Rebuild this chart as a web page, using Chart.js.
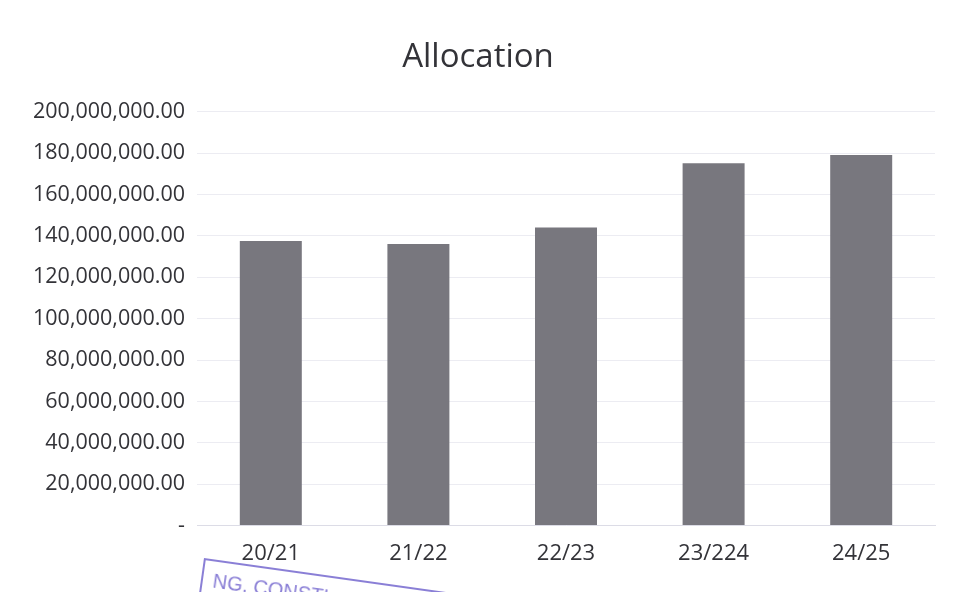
<!DOCTYPE html>
<html>
<head>
<meta charset="utf-8">
<script src="https://cdn.jsdelivr.net/npm/chart.js@4/dist/chart.umd.min.js"></script>
<style>
  html, body { margin: 0; padding: 0; background: #ffffff; }
  #wrap { position: relative; width: 954px; height: 592px; overflow: hidden; }
  canvas { display: block; }
  #stamp { position: absolute; left: 204px; top: 558px; width: 330px; height: 60px;
    border: 2px solid #8a7fd6; color: #8a7fd6; font-family: "Liberation Sans", sans-serif;
    font-size: 20px; transform: rotate(8deg); transform-origin: 0 0; padding: 8px 10px; box-sizing: border-box; }
</style>
</head>
<body>
<div id="wrap">
<canvas id="c" width="954" height="592"></canvas>
<div id="stamp">NG. CONSTI</div>
</div>
<script>
const categories = ["20/21", "21/22", "22/23", "23/224", "24/25"];
const allocation = [137500000, 136000000, 144000000, 175000000, 179000000];
const yMin = 0, yMax = 200000000, yStep = 20000000;

function fmt(v) {
  if (v === 0) return "-";
  return v.toLocaleString("en-US", { minimumFractionDigits: 2, maximumFractionDigits: 2 });
}

new Chart(document.getElementById("c"), {
  type: "bar",
  data: {
    labels: categories,
    datasets: [{
      label: "Allocation",
      data: allocation,
      backgroundColor: "#78777e",
      borderWidth: 0,
      barPercentage: 0.42,
      categoryPercentage: 1.0
    }]
  },
  options: {
    responsive: false,
    animation: false,
    layout: { padding: { left: 21, right: 19, top: 0, bottom: 10 } },
    plugins: {
      legend: { display: false },
      tooltip: { enabled: false },
      title: {
        display: true,
        text: "Allocation",
        color: "#333338",
        font: { family: "Open Sans", size: 33, weight: "normal" },
        padding: { top: 38, bottom: 34 }
      }
    },
    scales: {
      x: {
        grid: { display: false, drawTicks: false },
        border: { display: true, color: "#dcdce6", width: 1 },
        ticks: { color: "#333338", font: { family: "Open Sans", size: 22 }, padding: 15 }
      },
      y: {
        min: yMin, max: yMax,
        grid: { color: "#ececf2", lineWidth: 1, drawTicks: false },
        border: { display: false },
        ticks: {
          stepSize: yStep,
          color: "#333338",
          font: { family: "Open Sans", size: 21.5 },
          padding: 12,
          callback: (v) => fmt(v)
        }
      }
    }
  }
});
</script>
</body>
</html>
